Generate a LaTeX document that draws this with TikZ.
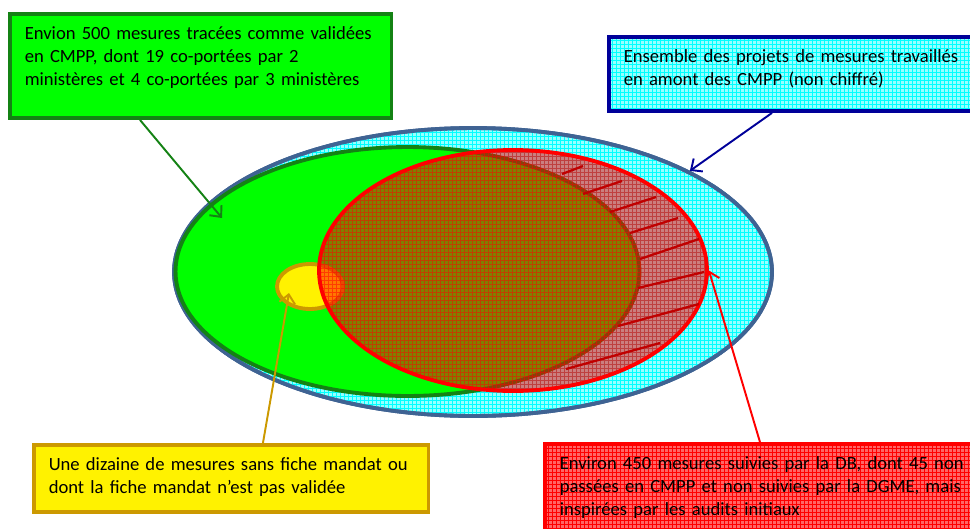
\documentclass[tikz,border=0pt]{standalone}
\usepackage{fontspec}
\setmainfont{Carlito}
\usetikzlibrary{arrows.meta,shapes.geometric,patterns.meta}
\definecolor{vertfonce}{RGB}{20,130,20}
\definecolor{bleuacier}{RGB}{63,99,147}
\definecolor{marine}{RGB}{0,0,153}
\definecolor{or}{RGB}{204,153,0}
\definecolor{rougefonce}{RGB}{192,0,0}
\definecolor{cyanclair}{RGB}{150,255,255}
\tikzset{
    %Define standard arrow tip
    >={Straight Barb[length=5pt,width=9pt]},
    %Define style for boxes
    cadre/.style={
           rectangle,
           anchor=north west,
           line width=2pt,
           inner xsep=0.3cm,
           inner ysep=0.25cm,
           align=left,
           font=\fontsize{10.6}{13.3}\selectfont},
    % Define style for the sets
    zone/.style={
           ellipse,
           inner sep=0pt,
           line width=2.2pt},
    % Define grid fill, border drawn again on top
    quadrillage/.style 2 args={
           postaction={pattern={Hatch[distance=0.08cm,line width=0.3pt]},
                       pattern color=#1},
           postaction={draw=#2}},
    % Define arrow style
    fleche/.style={
           ->,
           line width=1.1pt},
    hachure/.style={
           rougefonce,
           line width=1.3pt}
}
\begin{document}
\begin{tikzpicture}[x=0.02cm, y=-0.02cm]
  \clip (0,0) rectangle (970,528);
  % the sets
  \node[zone, draw=bleuacier, fill=cyanclair, quadrillage={cyan}{bleuacier},
        minimum width=11.96cm, minimum height=5.76cm] (ensemble) at (473,272) {};
  \node[zone, draw=vertfonce, fill=green,
        minimum width=9.28cm, minimum height=4.98cm] (validees) at (407.5,271.5) {};
  \node[zone, draw=or, fill=yellow,
        minimum width=1.32cm, minimum height=0.9cm] (sansfiche) at (310,286.5) {};
  \node[zone, draw=red, fill=red, fill opacity=0.5,
        minimum width=7.76cm, minimum height=4.82cm] (bilan) at (513,270.5) {};
  \begin{scope}
    \clip (bilan.center) ellipse [x radius=3.88cm, y radius=2.41cm];
    \draw[red, draw opacity=0.5, line width=0.3pt, step=0.08cm, xshift=0.01cm, yshift=-0.01cm] (300,130) grid (720,410);
  \end{scope}
  \foreach \xa/\ya/\xb/\yb in {562/174/583/166, 583/194/622/181, 610/212/656/197,
      630/233/678/218, 640/259/699/239, 638/288/704/272, 618/326/699/304, 566/369/660/343}
    \draw[hachure] (\xa,\ya) -- (\xb,\yb);
  \coordinate (cible1) at (222,218);
  \coordinate (cible2) at (289,293);
  % the boxes
  \node[cadre, draw=vertfonce, fill=green, text width=7.04cm, text depth=1.33cm] (cmpp) at (8,12)
    {Envion 500 mesures tracées comme validées\\en CMPP, dont 19 co-portées par 2\\ministères et 4 co-portées par 3 ministères};
  \node[cadre, draw=marine, fill=cyanclair, quadrillage={cyan}{marine}, text width=7.3cm, text depth=0.73cm] (projets) at (607,35)
    {Ensemble des projets de mesures travaillés\\en amont des CMPP (non chiffré)};
  \node[cadre, draw=or, fill=yellow, text width=7.3cm, text depth=0.59cm] (dizaine) at (32,443)
    {Une dizaine de mesures sans fiche mandat ou\\dont la fiche mandat n'est pas validée};
  \node[cadre, draw=red, fill=red!60, quadrillage={red}{red}, text width=8.54cm, text depth=1.4cm] (suivies) at (543,442)
    {Environ 450 mesures suivies par la DB, dont 45 non\\passées en CMPP et non suivies par la DGME, mais\\inspirées par les audits initiaux};
  % the arrows
  \draw[fleche, vertfonce] ([xshift=2.64cm]cmpp.south west) -- (cible1);
  \draw[fleche, marine] ([xshift=3.3cm]projets.south west) -- (ensemble.25);
  \draw[fleche, or] ([xshift=4.62cm]dizaine.north west) -- (cible2);
  \draw[fleche, red] ([xshift=4.34cm]suivies.north west) -- (bilan.east);
\end{tikzpicture}
\end{document}
